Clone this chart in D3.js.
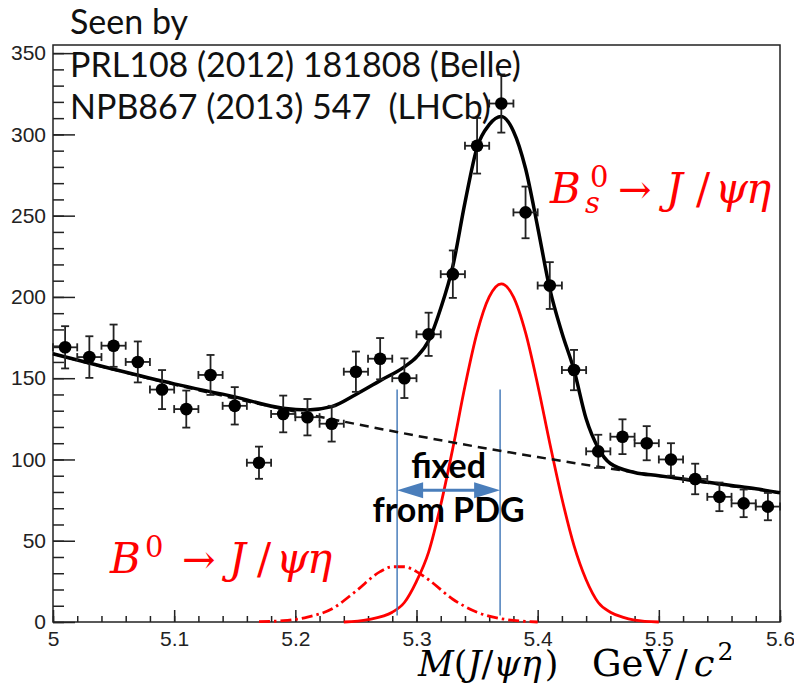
<!DOCTYPE html>
<html>
<head>
<meta charset="utf-8">
<script src="https://cdn.jsdelivr.net/npm/d3@7/dist/d3.min.js"></script>
<style>
  body { margin: 0; background: #fff; }
</style>
</head>
<body>
<script>
// M(J/psi eta) histogram, 20 MeV bins
const binCenters = [5.01, 5.03, 5.05, 5.07, 5.09, 5.11, 5.13, 5.15, 5.17, 5.19,
                    5.21, 5.23, 5.25, 5.27, 5.29, 5.31, 5.33, 5.35, 5.37, 5.39,
                    5.41, 5.43, 5.45, 5.47, 5.49, 5.51, 5.53, 5.55, 5.57, 5.59];
const counts = [169, 163, 170, 160, 143, 131, 152, 133, 98, 128,
                126, 122, 154, 162, 150, 177, 214, 293, 319, 252,
                207, 155, 105, 114, 110, 100, 88, 77, 73, 71];
const errors = [13, 12.8, 13, 12.6, 12, 11.4, 12.3, 11.5, 9.9, 11.3,
                11.2, 11, 12.4, 12.7, 12.2, 13.3, 14.6, 17.1, 17.9, 15.9,
                14.4, 12.4, 10.2, 10.7, 10.5, 10, 9.4, 8.8, 8.5, 8.4];
const binHalfWidth = 0.01;

// fit curves
const totalX = [5.00, 5.05, 5.10, 5.15, 5.19, 5.21, 5.23, 5.25, 5.27, 5.29, 5.30, 5.31, 5.32, 5.33,
                5.34, 5.35, 5.36, 5.37, 5.38, 5.39, 5.40, 5.41, 5.42, 5.43, 5.44, 5.45, 5.46, 5.48,
                5.50, 5.52, 5.54, 5.56, 5.58, 5.60];
const totalY = [165, 155.5, 146.5, 138.5, 131.5, 130.5, 132.5, 140, 148.5, 157, 163, 173, 193, 219,
                258, 292, 306, 311, 302, 279, 243, 205, 178, 155, 125, 107, 97.5, 92,
                90, 88, 86, 84, 82, 79.5];

const bkgX = [5.00, 5.05, 5.10, 5.15, 5.20, 5.25, 5.30, 5.35, 5.40, 5.45, 5.50, 5.55, 5.60];
const bkgY = [165, 155.3, 146.1, 137.5, 129.4, 121.8, 114.6, 107.8, 101.5, 95.5, 89.9, 84.6, 79.6];

const bsX = [5.24, 5.26, 5.28, 5.29, 5.30, 5.31, 5.32, 5.33, 5.34, 5.35, 5.36, 5.37,
             5.38, 5.39, 5.40, 5.41, 5.42, 5.43, 5.44, 5.45, 5.46, 5.47, 5.48, 5.50];
const bsY = [0, 1.5, 6, 12, 25, 43, 72, 107, 145, 178, 200, 208,
             200, 178, 146, 110, 76, 47, 26, 12, 6, 3, 1.2, 0];

const b0X = [5.17, 5.19, 5.21, 5.23, 5.25, 5.27, 5.28, 5.29, 5.30, 5.31, 5.33, 5.35, 5.37, 5.40];
const b0Y = [0.2, 0.8, 3, 8, 19, 31, 34, 34, 31, 26, 14, 6, 2, 0];

// PDG masses marked with blue lines
const massLines = [5.284, 5.369];
const massLineRange = [4, 143];
const arrowLevel = 81;

const xTicks = [5, 5.1, 5.2, 5.3, 5.4, 5.5, 5.6];
const xTickLabels = ["5", "5.1", "5.2", "5.3", "5.4", "5.5", "5.6"];
const yTicks = [0, 50, 100, 150, 200, 250, 300, 350];

const width = 794, height = 690;

const svg = d3.select("body").append("svg")
    .attr("width", width)
    .attr("height", height)
    .attr("xmlns", "http://www.w3.org/2000/svg");

svg.append("rect")
    .attr("width", width).attr("height", height)
    .style("fill", "#fff");

const x = d3.scaleLinear().domain([5, 5.6]).range([53, 780]);
const y = d3.scaleLinear().domain([0, 355]).range([622, 45]);

const axisColor = "#222";
const tickFont = "'Liberation Sans', Arial, sans-serif";

// frame
svg.append("rect")
    .attr("x", x(5)).attr("y", y(355))
    .attr("width", x(5.6) - x(5)).attr("height", y(0) - y(355))
    .style("fill", "none").style("stroke", axisColor).style("stroke-width", 1.5);

// minor ticks
svg.append("g")
    .attr("transform", `translate(0,${y(0)})`)
    .call(d3.axisBottom(x).tickValues(d3.range(5, 5.6001, 0.02)).tickSize(-6).tickFormat(""))
    .call(g => g.select(".domain").remove())
    .call(g => g.selectAll("line").style("stroke", axisColor).style("stroke-width", 1.5));
svg.append("g")
    .attr("transform", `translate(${x(5)},0)`)
    .call(d3.axisLeft(y).tickValues(d3.range(0, 351, 10)).tickSize(-11).tickFormat(""))
    .call(g => g.select(".domain").remove())
    .call(g => g.selectAll("line").style("stroke", axisColor).style("stroke-width", 1.5));

// major ticks + labels
svg.append("g")
    .attr("transform", `translate(0,${y(0)})`)
    .call(d3.axisBottom(x).tickValues(xTicks).tickSize(-12).tickPadding(9)
        .tickFormat((d, i) => xTickLabels[i]))
    .call(g => g.select(".domain").remove())
    .call(g => g.selectAll("line").style("stroke", axisColor).style("stroke-width", 1.5))
    .call(g => g.selectAll("text").style("font-family", tickFont)
        .style("font-size", "21px").style("fill", "#222"));
svg.append("g")
    .attr("transform", `translate(${x(5)},0)`)
    .call(d3.axisLeft(y).tickValues(yTicks).tickSize(-22).tickPadding(7))
    .call(g => g.select(".domain").remove())
    .call(g => g.selectAll("line").style("stroke", axisColor).style("stroke-width", 1.5))
    .call(g => g.selectAll("text").style("font-family", tickFont)
        .style("font-size", "21px").style("fill", "#222"));

const toPts = (xs, ys) => xs.map((d, i) => [d, ys[i]]);
const line = d3.line().x(d => x(d[0])).y(d => y(d[1])).curve(d3.curveMonotoneX);

// signal components
svg.append("path")
    .attr("d", line(toPts(b0X, b0Y)))
    .style("fill", "none").style("stroke", "#f00").style("stroke-width", 2.8)
    .style("stroke-dasharray", "11,4,2.5,4");
svg.append("path")
    .attr("d", line(toPts(bsX, bsY)))
    .style("fill", "none").style("stroke", "#f00").style("stroke-width", 2.8);

// blue mass markers
const blue = "#4a7ebb";
svg.selectAll(".massline")
    .data(massLines)
    .enter().append("line")
    .attr("x1", d => x(d)).attr("x2", d => x(d))
    .attr("y1", y(massLineRange[0])).attr("y2", y(massLineRange[1]))
    .style("stroke", blue).style("stroke-width", 1.5);

const ax1 = x(massLines[0]), ax2 = x(massLines[1]), ay = y(arrowLevel);
svg.append("line")
    .attr("x1", ax1 + 20).attr("x2", ax2 - 20).attr("y1", ay).attr("y2", ay)
    .style("stroke", blue).style("stroke-width", 3);
svg.append("path")
    .attr("d", `M${ax1},${ay} L${ax1 + 26},${ay - 8} L${ax1 + 26},${ay + 8} Z`)
    .style("fill", blue);
svg.append("path")
    .attr("d", `M${ax2},${ay} L${ax2 - 26},${ay - 8} L${ax2 - 26},${ay + 8} Z`)
    .style("fill", blue);

// background + total fit
svg.append("path")
    .attr("d", line(toPts(bkgX, bkgY)))
    .style("fill", "none").style("stroke", "#111").style("stroke-width", 2.5)
    .style("stroke-dasharray", "9,6");
svg.append("path")
    .attr("d", line(toPts(totalX, totalY)))
    .style("fill", "none").style("stroke", "#000").style("stroke-width", 3.5);

// data points with error bars
const pts = svg.append("g").selectAll("g")
    .data(binCenters.map((c, i) => ({ c, n: counts[i], e: errors[i] })))
    .enter().append("g")
    .style("stroke", "#222").style("stroke-width", 1.8);

pts.append("line")
    .attr("x1", d => x(d.c)).attr("x2", d => x(d.c))
    .attr("y1", d => y(d.n - d.e)).attr("y2", d => y(d.n + d.e));
pts.append("line")
    .attr("x1", d => x(d.c) - 4).attr("x2", d => x(d.c) + 4)
    .attr("y1", d => y(d.n + d.e)).attr("y2", d => y(d.n + d.e));
pts.append("line")
    .attr("x1", d => x(d.c) - 4).attr("x2", d => x(d.c) + 4)
    .attr("y1", d => y(d.n - d.e)).attr("y2", d => y(d.n - d.e));
pts.append("line")
    .attr("x1", d => x(d.c - binHalfWidth)).attr("x2", d => x(d.c + binHalfWidth))
    .attr("y1", d => y(d.n)).attr("y2", d => y(d.n));
pts.append("line")
    .attr("x1", d => x(d.c - binHalfWidth)).attr("x2", d => x(d.c - binHalfWidth))
    .attr("y1", d => y(d.n) - 4).attr("y2", d => y(d.n) + 4);
pts.append("line")
    .attr("x1", d => x(d.c + binHalfWidth)).attr("x2", d => x(d.c + binHalfWidth))
    .attr("y1", d => y(d.n) - 4).attr("y2", d => y(d.n) + 4);
pts.append("circle")
    .attr("cx", d => x(d.c)).attr("cy", d => y(d.n)).attr("r", 6.3)
    .style("fill", "#000").style("stroke", "none");

// reference text
const refFont = "Lato, 'Open Sans', sans-serif";
const refLines = ["Seen by", "PRL108 (2012) 181808 (Belle)", "NPB867 (2013) 547  (LHCb)"];
svg.selectAll(".ref")
    .data(refLines)
    .enter().append("text")
    .attr("x", 70)
    .attr("y", (d, i) => [34, 77, 119][i])
    .style("font-family", refFont).style("font-size", "34px").style("fill", "#111")
    .style("white-space", "pre")
    .text(d => d);

svg.append("text")
    .attr("x", (ax1 + ax2) / 2).attr("y", 478)
    .attr("text-anchor", "middle")
    .style("font-family", refFont).style("font-weight", "bold").style("font-size", "34px")
    .text("fixed");
svg.append("text")
    .attr("x", (ax1 + ax2) / 2).attr("y", 522)
    .attr("text-anchor", "middle")
    .style("font-family", refFont).style("font-weight", "bold").style("font-size", "34px")
    .text("from PDG");

// math labels: one text element, glyph pieces as tspans
const mathFont = "'DejaVu Serif', 'Liberation Serif', serif";
function mathLabel(pieces, color, size) {
  const t = svg.append("text")
      .style("fill", color).style("font-family", mathFont)
      .style("font-size", size + "px");
  pieces.forEach(p => {
    const s = t.append("tspan")
      .style("font-size", (p.s || size) + "px")
      .style("font-style", p.it ? "italic" : "normal")
      .text(p.t);
    if (p.x != null) s.attr("x", p.x);
    if (p.y != null) s.attr("y", p.y);
    if (p.dx != null) s.attr("dx", p.dx);
  });
}

mathLabel([
  { t: "B", x: 550, y: 203, it: true },
  { t: "s", x: 585, y: 213, s: 29, it: true },
  { t: "0", x: 590, y: 187, s: 29 },
  { t: "\u2192", x: 618, y: 203, s: 40 },
  { t: "J", x: 666, y: 203, it: true },
  { t: "/", x: 696, y: 203 },
  { t: "\u03c8", x: 715, y: 203, it: true },
  { t: "\u03b7", x: 746, y: 203, it: true }
], "#f00", 42);

mathLabel([
  { t: "B", x: 110, y: 573, it: true },
  { t: "0", x: 145, y: 557, s: 29 },
  { t: "\u2192", x: 182, y: 573, s: 40 },
  { t: "J", x: 229, y: 573, it: true },
  { t: "/", x: 257, y: 573 },
  { t: "\u03c8", x: 276, y: 573, it: true },
  { t: "\u03b7", x: 307, y: 573, it: true }
], "#f00", 42);

// x-axis title
mathLabel([
  { t: "M", x: 418, y: 676, it: true },
  { t: "(" },
  { t: "J", it: true },
  { t: "/" },
  { t: "\u03c8\u03b7", it: true },
  { t: ")", dx: 3 }
], "#000", 35);
mathLabel([
  { t: "GeV", x: 592, y: 676 },
  { t: "/", dx: 5 },
  { t: "c", dx: 6, it: true },
  { t: "2", dx: 3, y: 660, s: 25 }
], "#000", 37);
</script>
</body>
</html>
